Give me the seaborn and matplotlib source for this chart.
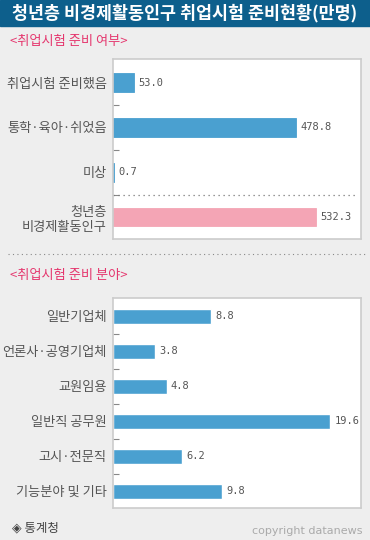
import pandas as pd
import matplotlib.pyplot as plt
from matplotlib.lines import Line2D
from matplotlib.ticker import FixedLocator
import seaborn as sns

sns.set_theme(style='white')
plt.rcParams['font.family'] = ['Noto Sans CJK KR', 'DejaVu Sans']

# 데이터 (단위: 만명)
prep_labels = ['취업시험 준비했음', '통학·육아·쉬었음', '미상', '청년층\n비경제활동인구']
prep_values = [53.0, 478.8, 0.7, 532.3]
prep_colors = ['#4aa0d0', '#4aa0d0', '#4aa0d0', '#f4a5b5']

field_labels = ['일반기업체', '언론사·공영기업체', '교원임용', '일반직 공무원', '고시·전문직', '기능분야 및 기타']
field_values = [8.8, 3.8, 4.8, 19.6, 6.2, 9.8]

W, H = 370, 540
fig = plt.figure(figsize=(W / 100, H / 100), dpi=100)
fig.patch.set_facecolor('#eeeeee')

def box(x0, y0, x1, y1):
    # 픽셀 좌표 -> figure 좌표
    return [x0 / W, 1 - y1 / H, (x1 - x0) / W, (y1 - y0) / H]

# 제목 바
fig.patches.append(plt.Rectangle((0, 1 - 26 / H), 1, 26 / H, transform=fig.transFigure,
                                 color='#0d5f8c', zorder=0))
fig.text(0.5, 1 - 13 / H, '청년층 비경제활동인구 취업시험 준비현황(만명)', color='white',
         fontsize=12.5, fontweight='bold', ha='center', va='center')

pink = '#e5366e'
fig.text(10 / W, 1 - 42 / H, '<취업시험 준비 여부>', color=pink, fontsize=9.5, va='center')
fig.text(10 / W, 1 - 276 / H, '<취업시험 준비 분야>', color=pink, fontsize=9.5, va='center')

fig.add_artist(Line2D([8 / W, 365 / W], [1 - 254 / H, 1 - 254 / H], transform=fig.transFigure,
                      color='#888888', lw=0.8, ls=(0, (1, 3))))


def style_axis(ax, n):
    ax.set_facecolor('white')
    for s in ax.spines.values():
        s.set_color('#cccccc')
        s.set_linewidth(1.2)
    ax.set_xlabel('')
    ax.set_ylabel('')
    ax.set_xticks([])
    ax.tick_params(axis='y', which='major', left=True, length=0, pad=5, labelsize=9.5,
                   labelcolor='#555555')
    ax.yaxis.set_minor_locator(FixedLocator([i + 0.5 for i in range(n - 1)]))
    ax.tick_params(axis='y', which='minor', left=True, direction='in', length=4, width=0.8,
                   color='#888888')
    for lab in ax.get_yticklabels():
        lab.set_ha('right')
        lab.set_multialignment('right')


# 준비 여부
ax1 = fig.add_axes(box(113.5, 59, 361, 239))
df1 = pd.DataFrame({'label': prep_labels, 'value': prep_values})
sns.barplot(data=df1, y='label', x='value', hue='label', palette=prep_colors,
            orient='h', width=0.42, legend=False, ax=ax1, saturation=1)
for p, c in zip(ax1.patches, prep_colors):
    p.set_edgecolor(c)
    p.set_linewidth(0.6)
ax1.set_xlim(0, 650)
ax1.set_ylim(3.49, -0.525)
style_axis(ax1, 4)
ax1.axhline(2.5, xmin=0, xmax=0.975, color='#777777', lw=0.9, ls=(0, (1, 3)))
for c in ax1.containers:
    ax1.bar_label(c, fmt='%.1f', padding=3, fontsize=7.5, color='#555555', family='DejaVu Sans Mono')

# 준비 분야
ax2 = fig.add_axes(box(113.5, 298, 361, 508))
df2 = pd.DataFrame({'label': field_labels, 'value': field_values})
sns.barplot(data=df2, y='label', x='value', color='#4aa0d0', orient='h', width=0.43,
            ax=ax2, saturation=1)
ax2.set_xlim(0, 22.4)
ax2.set_ylim(5.48, -0.52)
style_axis(ax2, 6)
for c in ax2.containers:
    ax2.bar_label(c, fmt='%.1f', padding=3, fontsize=7.5, color='#555555', family='DejaVu Sans Mono')

# 출처
fig.text(12 / W, 1 - 528 / H, '◈ 통계청', color='#444444', fontsize=9, va='center')
fig.text(362 / W, 1 - 531 / H, 'copyright datanews', color='#aaaaaa', fontsize=8,
         ha='right', va='center', family='DejaVu Sans')

fig.savefig('out.png', dpi=100, facecolor=fig.get_facecolor())
